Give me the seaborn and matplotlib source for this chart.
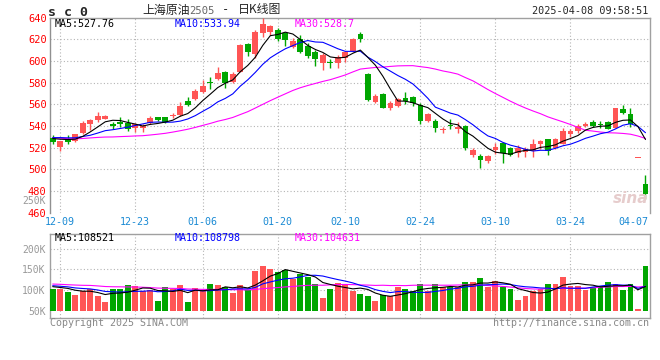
import numpy as np
import pandas as pd
import matplotlib
matplotlib.use("Agg")
import matplotlib.pyplot as plt
import seaborn as sns
from matplotlib.transforms import ScaledTranslation

sns.set_theme(style="white")
plt.rcParams['font.family'] = ['DejaVu Sans Mono', 'Noto Sans CJK SC']

# ---------------- data ----------------
# daily candles 2024-12-06 ... 2025-04-08 (80 trading days)
opens = [529.2, 520.6, 528.0, 526.5, 533.8, 542.1, 545.5, 546.5, 541.5, 544.0,
         542.5, 537.8, 537.8, 542.5, 548.0, 548.0, 549.2, 550.1, 563.0, 564.9,
         571.0, 580.6, 583.3, 589.5, 580.9, 590.1, 615.3, 606.1, 625.5, 627.0,
         628.6, 625.5, 613.2, 620.3, 614.1, 608.6, 597.8, 598.4, 597.8, 602.4,
         609.5, 624.6, 588.0, 562.4, 569.5, 556.3, 558.4, 566.1, 567.1, 559.4,
         544.6, 544.6, 536.0, 540.6, 536.9, 540.0, 513.2, 512.3, 508.0, 517.9,
         524.6, 520.0, 514.8, 516.3, 517.2, 523.4, 527.7, 520.1, 523.8, 532.4,
         535.5, 540.1, 544.1, 541.6, 544.1, 538.5, 555.5, 550.8, 510.2, 486.9]
highs = [531.7, 526.2, 531.7, 532.6, 544.6, 546.5, 552.6, 550.1, 544.0, 548.3,
         546.5, 542.5, 541.5, 549.5, 548.6, 548.6, 552.3, 561.8, 567.1, 574.1,
         582.1, 585.2, 594.7, 590.7, 589.5, 615.3, 616.9, 628.6, 639.3, 633.2,
         630.1, 626.4, 621.5, 624.0, 616.3, 610.1, 607.0, 601.5, 605.5, 609.2,
         621.5, 626.4, 588.6, 569.5, 570.1, 563.1, 566.1, 571.7, 568.0, 560.9,
         552.3, 546.5, 539.4, 546.3, 544.0, 540.6, 519.4, 514.2, 513.2, 524.6,
         525.5, 520.9, 522.5, 520.9, 527.7, 527.1, 528.3, 528.7, 538.5, 537.0,
         541.6, 544.1, 545.3, 544.7, 544.7, 557.0, 559.2, 556.4, 510.2, 494.9]
lows = [523.1, 516.9, 523.1, 525.5, 532.9, 536.0, 544.0, 546.1, 536.9, 539.4,
        535.7, 534.8, 534.8, 541.5, 544.6, 542.4, 547.0, 549.5, 558.7, 564.0,
        570.1, 574.1, 582.4, 575.3, 580.0, 589.5, 604.9, 602.4, 622.4, 624.0,
        618.4, 614.1, 611.6, 607.0, 602.4, 595.6, 591.6, 593.8, 593.2, 599.3,
        608.6, 617.2, 563.1, 561.5, 556.3, 554.8, 557.8, 560.0, 558.8, 541.5,
        544.0, 534.2, 533.2, 537.0, 533.2, 517.9, 511.7, 500.9, 505.6, 514.2,
        505.6, 512.3, 511.7, 511.7, 511.7, 518.5, 513.2, 518.5, 523.2, 529.9,
        533.9, 539.2, 539.2, 537.9, 537.0, 537.9, 551.5, 539.2, 510.2, 472.4]
closes = [524.9, 526.2, 525.5, 532.6, 542.8, 545.5, 549.2, 549.2, 539.7, 541.5,
          536.9, 541.5, 540.3, 547.1, 545.8, 543.4, 550.1, 558.7, 559.3, 572.3,
          576.9, 579.6, 589.2, 579.3, 587.6, 614.7, 608.6, 627.0, 634.1, 632.2,
          620.3, 619.3, 618.4, 608.6, 604.9, 601.8, 605.5, 597.8, 603.9, 607.9,
          620.3, 620.3, 564.0, 568.0, 556.9, 561.5, 564.9, 563.1, 560.9, 544.6,
          551.1, 538.5, 537.2, 540.0, 538.8, 519.4, 517.9, 508.6, 512.3, 520.9,
          514.8, 513.2, 520.0, 518.5, 523.4, 526.2, 517.2, 527.8, 535.5, 535.5,
          540.1, 542.2, 540.1, 541.0, 537.0, 556.4, 551.8, 541.6, 510.2, 477.6]
volumes = [102300, 101500, 95900, 87800, 98300, 102300, 85400, 71700, 102300, 102300,
           112000, 109600, 98300, 99900, 74200, 108000, 102300, 112000, 71700, 104700,
           99900, 114400, 112000, 107200, 93500, 112000, 99900, 146600, 158700, 150700,
           142600, 148200, 125700, 138600, 130500, 114400, 81400, 102300, 117600, 114400,
           98300, 90300, 86200, 74200, 87800, 85400, 106400, 102300, 97500, 114400,
           98300, 114400, 108000, 108000, 108000, 119200, 119200, 129700, 108000, 121700,
           108000, 102300, 75800, 86200, 97500, 101500, 114400, 114400, 131300, 110400,
           109000, 100500, 107000, 110500, 118400, 115000, 101000, 115000, 54000, 157600]
# earlier sessions (off the left edge), estimated from the MA levels at the left edge
prior_closes = [538, 541, 536, 533, 530, 535, 539, 537, 532, 529, 531, 534, 527,
                524, 519, 516, 521, 518, 522, 521,
                525, 528, 532, 531, 534, 529, 527, 531, 530]
prior_volumes = [120000, 125000, 112000, 118000, 110000, 122000, 115000, 119000, 108000, 121000,
                 116000, 113000, 124000, 111000, 117000, 114000, 120000, 109000, 118000, 116000,
                 115000, 110000, 114000, 112000, 113000, 111000, 107000, 110000, 110000]

tick_idx = [1, 11, 20, 30, 39, 49, 59, 69, 78]
tick_labels = ["12-09", "12-23", "01-06", "01-20", "02-10", "02-24", "03-10", "03-24", "04-07"]
price_ticks = [460, 480, 500, 520, 540, 560, 580, 600, 620, 640]
vol_ticks = [50000, 100000, 150000, 200000]

title_code = "s c 0"
timestamp = "2025-04-08 09:58:51"
price_ma_text = ["MA5:527.76", "MA10:533.94", "MA30:528.7"]
vol_ma_text = ["MA5:108521", "MA10:108798", "MA30:104631"]

# ---------------- derived ----------------
n = len(closes)
x = np.arange(n)
npr = len(prior_closes)
c_all = pd.Series(prior_closes + closes, dtype=float)
v_all = pd.Series(prior_volumes + volumes, dtype=float)
ma = {k: c_all.rolling(k).mean().iloc[npr:].to_numpy() for k in (5, 10, 30)}
vma = {k: v_all.rolling(k).mean().iloc[npr:].to_numpy() for k in (5, 10, 30)}

RED = '#ff5555'
GREEN = '#00a600'
up = [c >= o for o, c in zip(opens, closes)]
cols = [RED if u else GREEN for u in up]
ma_cols = {5: '#000000', 10: '#0000ff', 30: '#ff00ff'}
GRID = '#b4b4b4'
DOT = (0, (1, 2))

W, H = 660, 360
fig = plt.figure(figsize=(W / 100, H / 100), dpi=100)
fig.patch.set_facecolor('white')


def rect(x0, y0, x1, y1):
    return [x0 / W, 1 - y1 / H, (x1 - x0) / W, (y1 - y0) / H]


ax = fig.add_axes(rect(50, 17.6, 650, 212.7))
axv = fig.add_axes(rect(50, 234, 650, 318))
XL = (-0.36, 79.6)

# ---------------- price panel ----------------
for i in range(n):
    ax.vlines(x[i], lows[i], highs[i], color=cols[i], lw=1.0, zorder=3)
    lo = min(opens[i], closes[i])
    h = max(abs(closes[i] - opens[i]), 0.9)
    ax.bar(x[i], h, bottom=lo, width=0.76, color=cols[i], lw=0, zorder=4)
for k in (30, 10, 5):
    sns.lineplot(x=x, y=ma[k], ax=ax, color=ma_cols[k], lw=0.8, zorder=5, legend=False)

ax.set_xlim(*XL)
ax.set_ylim(460, 640)
ax.set_yticks(price_ticks)
ax.set_yticklabels([str(t) for t in price_ticks])
ax.set_xticks(tick_idx)
ax.set_xticklabels(tick_labels)
ax.tick_params(axis='y', length=0, pad=2.4, labelsize=7.5, labelcolor='#ff0000')
ax.tick_params(axis='x', length=0, pad=3.2, labelsize=7.2, labelcolor='#1a8ad4')
lab = ax.get_xticklabels()[-1]
lab.set_transform(lab.get_transform() + ScaledTranslation(-5 / 100, 0, fig.dpi_scale_trans))
for t in price_ticks[1:-1]:
    ax.axhline(t, color=GRID, lw=0.8, ls=DOT, zorder=1)
for t in tick_idx[:-1]:
    ax.axvline(t, color=GRID, lw=0.8, ls=DOT, zorder=1)
ax.set_xlabel('')
ax.set_ylabel('')
for s in ('top', 'right'):
    ax.spines[s].set_color('#a0a0a0')
    ax.spines[s].set_linewidth(1.0)
ax.spines['left'].set_color('#909090')
ax.spines['left'].set_linewidth(1.0)
ax.spines['bottom'].set_visible(False)

fig.text(648 / W, 1 - 198 / H, "sina", fontsize=11, fontstyle='italic', fontweight='bold',
         color='#e6cccc', ha='right', va='center', family=['DejaVu Sans'], zorder=0)

# ---------------- volume panel ----------------
base = vol_ticks[0]
axv.bar(x, np.array(volumes) - base, bottom=base, width=0.78, color=cols, lw=0, zorder=3)
for k in (30, 10, 5):
    sns.lineplot(x=x, y=vma[k], ax=axv, color=ma_cols[k], lw=0.8, zorder=5, legend=False)
axv.set_xlim(*XL)
axv.set_ylim(32400, 235300)
axv.set_yticks(vol_ticks)
axv.set_yticklabels([f"{int(v / 1000)}K" for v in vol_ticks])
axv.set_xticks([])
axv.tick_params(axis='y', length=0, pad=3.0, labelsize=7, labelcolor='#999999')
for t in vol_ticks[1:]:
    axv.axhline(t, color=GRID, lw=0.8, ls=DOT, zorder=1)
for t in tick_idx[:-1]:
    axv.axvline(t, color=GRID, lw=0.8, ls=DOT, zorder=1)
axv.set_xlabel('')
axv.set_ylabel('')
for s in axv.spines.values():
    s.set_color('#a0a0a0')
    s.set_linewidth(1.0)
fig.text(46 / W, 1 - 201 / H, "250K", fontsize=7, color='#999999', ha='right', va='center')

# ---------------- texts ----------------
fig.text(48 / W, 1 - 12 / H, title_code, fontsize=9.5, fontweight='bold', ha='left', va='center')
fig.text(142 / W, 1 - 10 / H, "上海原油", fontsize=8.6, ha='left', va='center',
         family=['Noto Sans CJK SC', 'DejaVu Sans'])
fig.text(189 / W, 1 - 10.5 / H, "2505", fontsize=7.6, color='#666666', ha='left', va='center')
fig.text(222 / W, 1 - 10 / H, "-", fontsize=8.6, ha='left', va='center')
fig.text(238 / W, 1 - 10 / H, "日K线图", fontsize=8.6, ha='left', va='center',
         family=['Noto Sans CJK SC', 'DejaVu Sans'])
fig.text(648 / W, 1 - 11.5 / H, timestamp, fontsize=7.3, ha='right', va='center')

for txt, xx, k in zip(price_ma_text, (55, 175, 295), (5, 10, 30)):
    fig.text(xx / W, 1 - 24 / H, txt, fontsize=7.2, color=ma_cols[k], ha='left', va='center')
for txt, xx, k in zip(vol_ma_text, (55, 175, 295), (5, 10, 30)):
    fig.text(xx / W, 1 - 238 / H, txt, fontsize=7.2, color=ma_cols[k], ha='left', va='center')

fig.text(50 / W, 1 - 323.5 / H, "Copyright 2025 SINA.COM", fontsize=7.2, color='#888888',
         ha='left', va='center')
fig.text(649 / W, 1 - 323.5 / H, "http://finance.sina.com.cn", fontsize=7.2, color='#888888',
         ha='right', va='center')

fig.savefig("out.png", dpi=100, facecolor='white')
